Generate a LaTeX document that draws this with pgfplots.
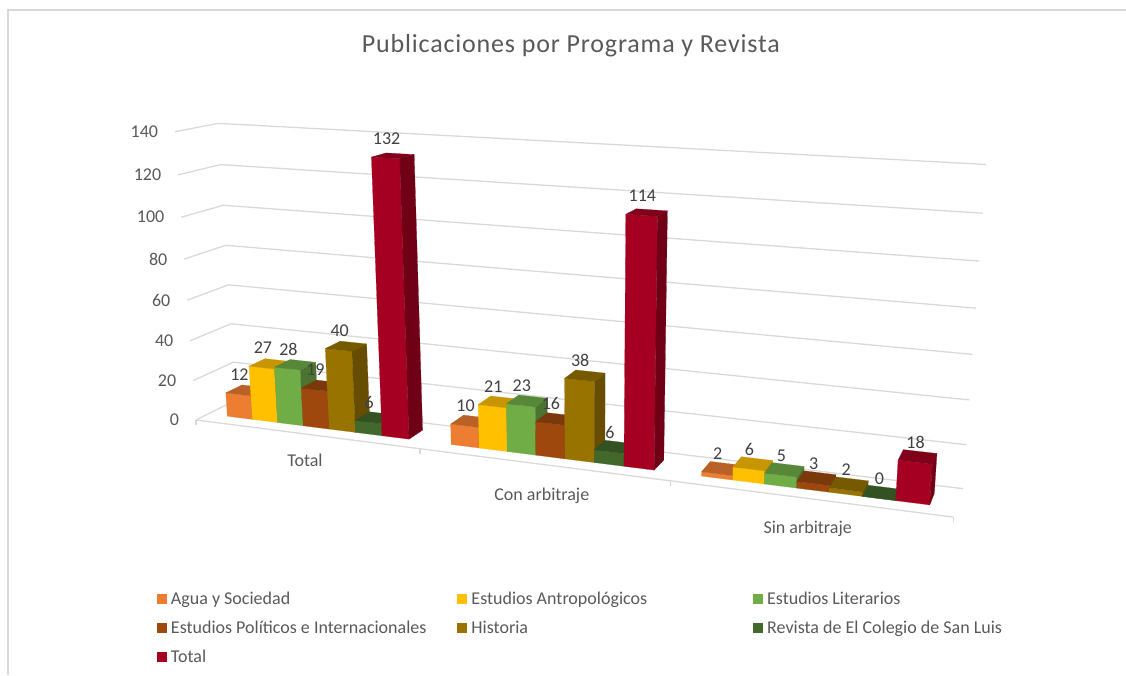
\documentclass[border=0pt]{standalone}
\usepackage{pgfplots}
\usepackage{pgfplotstable}
\usepackage{fontspec}
\pgfplotsset{compat=1.18}
\setmainfont{Carlito}
\newcommand{\chartfont}{\fontsize{18}{18}\selectfont}
\definecolor{cA}{HTML}{ED7D31}
\definecolor{cB}{HTML}{FFC000}
\definecolor{cC}{HTML}{70AD47}
\definecolor{cD}{HTML}{9E480E}
\definecolor{cE}{HTML}{997300}
\definecolor{cF}{HTML}{43682B}
\definecolor{cG}{HTML}{A50021}
\definecolor{gridc}{HTML}{D9D9D9}
\definecolor{textc}{HTML}{595959}
\definecolor{labc}{HTML}{404040}
% faces of a bar: a = left/right, b = front/back, h = floor/top
\pgfplotstableread{
a b h
0 0 0
1 0 0
1 0 1
0 0 1
0 0 0
}\frontface
\pgfplotstableread{
a b h
0 0 1
1 0 1
1 1 1
0 1 1
0 0 1
}\topface
\pgfplotstableread{
a b h
1 0 0
1 1 0
1 1 1
1 0 1
1 0 0
}\sideface
\pgfplotstableread{
u v
0 0
0 1
3 1
}\gridpath
\pgfplotstableread{
u v
0 0
3 0
}\floorpath
\newcommand{\Face}[5]{% table, cat, series, value, colour
  \addplot[fill=#5,draw=#5,line width=.2pt,forget plot] table[
    x expr={PX(#2+.09+(#3+\thisrow{a})*.1171,.30+.41*\thisrow{b},\thisrow{h}*#4/140)},
    y expr={PY(#2+.09+(#3+\thisrow{a})*.1171,.30+.41*\thisrow{b},\thisrow{h}*#4/140)}]{#1};}
\newcommand{\Bar}[4]{% cat, series, value, colour
  \Face{\frontface}{#1}{#2}{#3}{#4}
  \Face{\sideface}{#1}{#2}{#3}{#4!67!black}
  \Face{\topface}{#1}{#2}{#3}{#4!78!black}}
\newcommand{\Lab}[3]{% cat, series, value
  \addplot[forget plot,draw=none,mark=none,nodes near coords,point meta={#3},
    nodes near coords style={font=\chartfont,text=labc,anchor=center,yshift=19pt}]
    coordinates {({PX(#1+.09+(#2+.5)*.1171,.33,#3/140)},{PY(#1+.09+(#2+.5)*.1171,.33,#3/140)})};}
\newcommand{\Grid}[1]{%
  \addplot[gridc,line width=1.3pt,forget plot] table[
    x expr={PX(\thisrow{u},\thisrow{v},#1/140)},
    y expr={PY(\thisrow{u},\thisrow{v},#1/140)}]{\gridpath}
    node[pos=0,anchor=east,xshift=-13pt,font=\chartfont,text=textc]{#1};}
\newcommand{\Cat}[3]{%
  \addplot[forget plot,draw=none,mark=none] coordinates {({PX(#1,0,0)},{PY(#1,0,0)})}
    node[pos=0,anchor=center,yshift=-#2pt,font=\chartfont,text=textc]{#3};}
\newcommand{\Tick}[1]{%
  \addplot[gridc,line width=1.1pt,forget plot] coordinates {({PX(#1,0,0)},{PY(#1,0,0)}) ({PX(#1,0,0)},{PY(#1,0,0)+5})};}
% the values: series number, colour, Total, Con arbitraje, Sin arbitraje
\newcommand{\AllSeries}{%
  \Ser{0}{cA}{12}{10}{2}
  \Ser{1}{cB}{27}{21}{6}
  \Ser{2}{cC}{28}{23}{5}
  \Ser{3}{cD}{19}{16}{3}
  \Ser{4}{cE}{40}{38}{2}
  \Ser{5}{cF}{6}{6}{0}
  \Ser{6}{cG}{132}{114}{18}}
\newcommand{\Ser}{}
\begin{document}
\begin{tikzpicture}[declare function={
  WW(\u,\v,\t)=1-0.0532*\u+0.0436*\v-0.051*\t;
  PX(\u,\v,\t)=(196+201.7*\u+50.3*\v-29.9*\t)/WW(\u,\v,\t);
  PY(\u,\v,\t)=(420+4.85*\u-2.56*\v-295*\t)/WW(\u,\v,\t);
}]
\path[use as bounding box] (0,0) rectangle (1126pt,675pt);
\begin{axis}[
  at={(0,0)},anchor=south west,
  scale only axis,width=1126pt,height=675pt,
  xmin=0,xmax=1126,ymin=0,ymax=675,y dir=reverse,
  hide axis,clip=false,
  /pgf/number format/assume math mode=true,
  title={\addfontfeature{LetterSpace=3.2}Publicaciones por Programa y Revista},
  title style={at={(axis description cs:0.507,0.924)},anchor=center,font=\fontsize{26}{26}\selectfont,text=textc},
  legend columns=3,
  legend style={at={(axis description cs:0.1394,0.1347)},anchor=north west,draw=none,fill=none,
    inner sep=0pt,outer sep=0pt,font=\chartfont,text=textc,
    row sep=0pt,
    nodes={inner sep=0pt,minimum height=29pt},
    /tikz/column 1/.style={column sep=4pt},
    /tikz/column 2/.style={column sep=31pt},
    /tikz/column 3/.style={column sep=4pt},
    /tikz/column 4/.style={column sep=106pt},
    /tikz/column 5/.style={column sep=4pt}},
  legend cell align=left,
  legend image code/.code={\fill[#1,draw=none] (0pt,-5pt) rectangle (10pt,5pt);},
]
\addplot[gridc,line width=1.5pt,forget plot] coordinates {(8,675) (8,10) (1126,10)};
\Grid{0}\Grid{20}\Grid{40}\Grid{60}\Grid{80}\Grid{100}\Grid{120}\Grid{140}
\addplot[gridc,line width=1.3pt,forget plot] table[
    x expr={PX(\thisrow{u},\thisrow{v},0)},y expr={PY(\thisrow{u},\thisrow{v},0)}]{\floorpath};
\Tick{0}\Tick{1}\Tick{2}\Tick{3}
\Cat{0.5}{26}{Total}
\Cat{1.5}{31}{Con arbitraje}
\Cat{2.5}{30}{Sin arbitraje}
\renewcommand{\Ser}[5]{\Bar{0}{#1}{#3}{#2}\Bar{1}{#1}{#4}{#2}\Bar{2}{#1}{#5}{#2}}
\AllSeries
\renewcommand{\Ser}[5]{\Lab{0}{#1}{#3}\Lab{1}{#1}{#4}\Lab{2}{#1}{#5}}
\AllSeries
\addlegendimage{fill=cA}\addlegendentry{Agua y Sociedad}
\addlegendimage{fill=cB}\addlegendentry{Estudios Antropológicos}
\addlegendimage{fill=cC}\addlegendentry{Estudios Literarios}
\addlegendimage{fill=cD}\addlegendentry{Estudios Políticos e Internacionales}
\addlegendimage{fill=cE}\addlegendentry{Historia}
\addlegendimage{fill=cF}\addlegendentry{Revista de El Colegio de San Luis}
\addlegendimage{fill=cG}\addlegendentry{Total}
\end{axis}
\end{tikzpicture}
\end{document}
